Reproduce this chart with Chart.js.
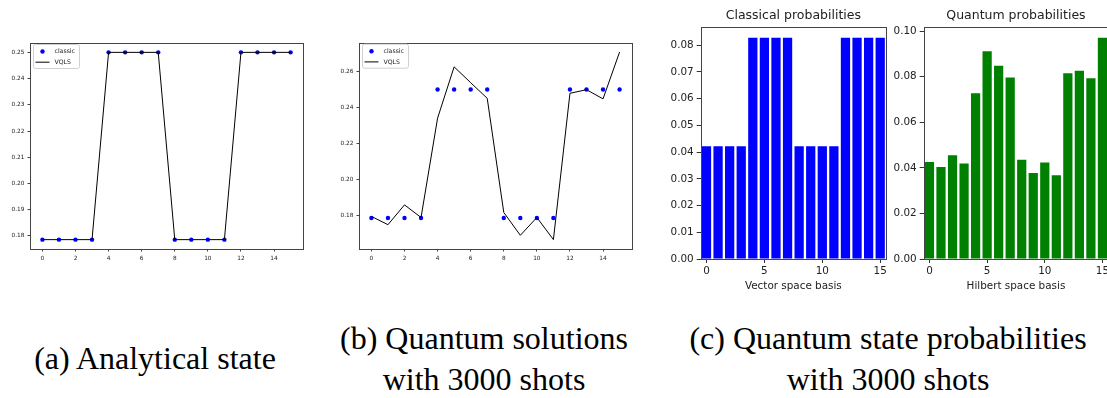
<!DOCTYPE html>
<html>
<head>
<meta charset="utf-8">
<script src="https://cdn.jsdelivr.net/npm/chart.js@4.4.1/dist/chart.umd.min.js"></script>
<style>
  html, body { margin: 0; padding: 0; overflow: hidden; background: #fff; }
  .box { position: absolute; }
  .cap { position: absolute; font-family: "Liberation Serif", "DejaVu Serif", serif; font-size: 32px;
         line-height: 41px; color: #000; text-align: center; white-space: nowrap; transform: translateX(-50%); }
</style>
</head>
<body>
<div class="box" style="left:0;top:30px;width:310px;height:240px"><canvas id="chartA"></canvas></div>
<div class="box" style="left:320px;top:30px;width:320px;height:240px"><canvas id="chartB"></canvas></div>
<div class="box" style="left:660px;top:0;width:240px;height:300px"><canvas id="chartC1"></canvas></div>
<div class="box" style="left:885px;top:0;width:240px;height:300px"><canvas id="chartC2"></canvas></div>

<div class="cap" style="left:155px;top:338px">(a) Analytical state</div>
<div class="cap" style="left:484px;top:318px">(b) Quantum solutions<br>with 3000 shots</div>
<div class="cap" style="left:888px;top:318px">(c) Quantum state probabilities<br>with 3000 shots</div>

<script>
// ── data ──
const basis = [0,1,2,3,4,5,6,7,8,9,10,11,12,13,14,15];
const classicAmp = [0.1786,0.1786,0.1786,0.1786,0.25,0.25,0.25,0.25,0.1786,0.1786,0.1786,0.1786,0.25,0.25,0.25,0.25];
const vqlsExact  = [0.1786,0.1786,0.1786,0.1786,0.25,0.25,0.25,0.25,0.1786,0.1786,0.1786,0.1786,0.25,0.25,0.25,0.25];
const vqlsShots  = [0.1795,0.1749,0.1859,0.1789,0.2341,0.2626,0.2538,0.2451,0.1817,0.1690,0.1789,0.1666,0.2479,0.2499,0.2448,0.2708];
const classicProb = [0.0422,0.0422,0.0422,0.0422,0.0828,0.0828,0.0828,0.0828,0.0422,0.0422,0.0422,0.0422,0.0828,0.0828,0.0828,0.0828];
const quantumProb = [0.0426,0.0404,0.0455,0.0419,0.0727,0.0912,0.0848,0.0797,0.0436,0.0377,0.0423,0.0368,0.0815,0.0826,0.0793,0.0971];
const lineTicksX = [0,2,4,6,8,10,12,14];
const ticksA  = [0.18,0.19,0.20,0.21,0.22,0.23,0.24,0.25];
const ticksB  = [0.18,0.20,0.22,0.24,0.26];
const barTicksX = [0,5,10,15];
const ticksC1 = [0,0.01,0.02,0.03,0.04,0.05,0.06,0.07,0.08];
const ticksC2 = [0,0.02,0.04,0.06,0.08,0.10];

const FONT = 'DejaVu Sans';
const fixTicks = vals => s => { s.ticks = vals.map(v => ({ value: v })); };

// box around the plot like matplotlib spines
const frame = {
  id: 'frame',
  afterDatasetsDraw(chart) {
    const { ctx, chartArea: a } = chart;
    ctx.save();
    ctx.strokeStyle = '#444'; ctx.lineWidth = 1;
    ctx.strokeRect(Math.round(a.left) + 0.5, Math.round(a.top) + 0.5,
                   Math.round(a.right - a.left), Math.round(a.bottom - a.top));
    ctx.restore();
  }
};

// title centred over the axes (not the canvas)
const axTitle = {
  id: 'axTitle',
  afterDraw(chart, args, opts) {
    if (!opts.text) return;
    const { ctx, chartArea: a } = chart;
    ctx.save();
    ctx.font = '12.5px ' + FONT; ctx.fillStyle = '#222';
    ctx.textAlign = 'center'; ctx.textBaseline = 'middle';
    ctx.fillText(opts.text, (a.left + a.right) / 2, a.top - 10.7);
    ctx.restore();
  }
};

// legend inside the axes, upper left
const innerLegend = {
  id: 'innerLegend',
  afterDraw(chart) {
    const { ctx, chartArea: a } = chart;
    const x = a.left + 3.5, y = a.top + 1.5, w = 46, h = 24;
    ctx.save();
    ctx.beginPath();
    ctx.roundRect(x, y, w, h, 2);
    ctx.fillStyle = 'rgba(255,255,255,0.85)'; ctx.fill();
    ctx.strokeStyle = '#d0d0d0'; ctx.lineWidth = 1; ctx.stroke();
    ctx.font = '6.2px ' + FONT; ctx.textBaseline = 'middle'; ctx.fillStyle = '#222';
    chart.data.datasets.forEach((ds, i) => {
      const cy = y + 7 + i * 10.7;
      if (ds.showLine) {
        ctx.beginPath(); ctx.moveTo(x + 2, cy); ctx.lineTo(x + 16, cy);
        ctx.strokeStyle = ds.borderColor; ctx.lineWidth = 1; ctx.stroke();
      } else {
        ctx.beginPath(); ctx.arc(x + 9, cy, 2.2, 0, Math.PI * 2);
        ctx.fillStyle = ds.backgroundColor; ctx.fill(); ctx.fillStyle = '#222';
      }
      ctx.fillText(ds.label, x + 21, cy);
    });
    ctx.restore();
  }
};

function lineChart(id, vqls, ticksY, yWidth, topPad, rightPad) {
  const all = classicAmp.concat(vqls);
  const lo = Math.min(...all), hi = Math.max(...all), m = (hi - lo) * 0.05;
  return new Chart(document.getElementById(id), {
    type: 'scatter',
    data: {
      datasets: [
        { label: 'classic', data: basis.map((x, i) => ({ x, y: classicAmp[i] })),
          backgroundColor: '#0000ff', borderColor: '#0000ff', pointRadius: 2.2, pointBorderWidth: 0, order: 1 },
        { label: 'VQLS', data: basis.map((x, i) => ({ x, y: vqls[i] })), showLine: true,
          borderColor: '#000', borderWidth: 1, pointRadius: 0, order: 0 }
      ]
    },
    options: {
      responsive: true, maintainAspectRatio: false, animation: false,
      layout: { padding: { top: topPad, right: rightPad, left: 0, bottom: 0 } },
      plugins: { legend: { display: false }, tooltip: { enabled: false } },
      scales: {
        x: { type: 'linear', min: -0.75, max: 15.75, afterBuildTicks: fixTicks(lineTicksX),
             afterFit: s => { s.height = 21; }, border: { display: false },
             grid: { drawOnChartArea: false, tickLength: 2.5, color: '#444' },
             ticks: { font: { size: 5.8, family: FONT }, color: '#222', padding: 3.5, maxRotation: 0 } },
        y: { min: lo - m, max: hi + m, afterBuildTicks: fixTicks(ticksY),
             afterFit: s => { s.width = yWidth; }, border: { display: false },
             grid: { drawOnChartArea: false, tickLength: 2.5, color: '#444' },
             ticks: { font: { size: 5.8, family: FONT }, color: '#222', padding: 3, callback: v => v.toFixed(2) } }
      }
    },
    plugins: [frame, innerLegend]
  });
}

function barChart(id, values, color, title, xTitle, ticksY, yWidth, rightPad) {
  return new Chart(document.getElementById(id), {
    type: 'bar',
    data: {
      labels: basis.map(String),
      datasets: [{ data: values, backgroundColor: color, barPercentage: 0.8, categoryPercentage: 1 }]
    },
    options: {
      responsive: true, maintainAspectRatio: false, animation: false,
      layout: { padding: { top: 26.7, right: rightPad, left: 0, bottom: 0 } },
      plugins: { legend: { display: false }, tooltip: { enabled: false }, axTitle: { text: title } },
      scales: {
        x: { afterBuildTicks: fixTicks(barTicksX), afterFit: s => { s.height = 41; }, border: { display: false },
             grid: { offset: false, drawOnChartArea: false, tickLength: 4, color: '#333' },
             ticks: { font: { size: 10.4, family: FONT }, color: '#222', padding: 2, maxRotation: 0, autoSkip: false },
             title: { display: true, text: xTitle, color: '#222', font: { size: 10.4, family: FONT }, padding: { top: 0, bottom: 7.7 } } },
        y: { min: 0, max: Math.max(...values) * 1.05, afterBuildTicks: fixTicks(ticksY),
             afterFit: s => { s.width = yWidth; }, border: { display: false },
             grid: { drawOnChartArea: false, tickLength: 4, color: '#333' },
             ticks: { font: { size: 10.4, family: FONT }, color: '#222', padding: 3, callback: v => v.toFixed(2) } }
      }
    },
    plugins: [frame, axTitle]
  });
}

lineChart('chartA', vqlsExact, ticksA, 30, 13, 7);
lineChart('chartB', vqlsShots, ticksB, 39, 12.7, 8);
barChart('chartC1', classicProb, '#0000ff', 'Classical probabilities', 'Vector space basis', ticksC1, 40.7, 14);
barChart('chartC2', quantumProb, '#008000', 'Quantum probabilities', 'Hilbert space basis', ticksC2, 38.7, 16.8);
</script>
</body>
</html>
